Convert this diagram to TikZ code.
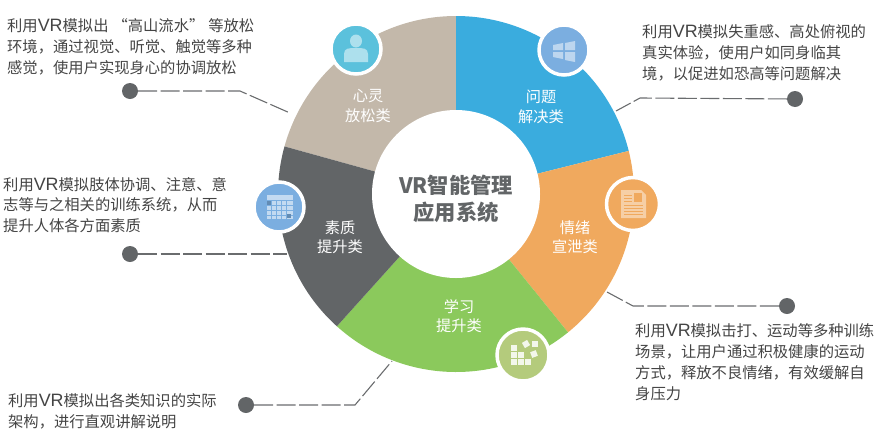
\documentclass[tikz,border=0pt]{standalone}
\usepackage{fontspec}
\setmainfont{Noto Sans CJK SC}[Scale=1]
\newfontfamily\latfont{Liberation Sans}[Scale=1.17]
\newcommand{\vrtxt}{{\latfont VR}}
\definecolor{cbeige}{HTML}{C3B8AA}
\definecolor{cblue}{HTML}{3AACDE}
\definecolor{corange}{HTML}{F0A95E}
\definecolor{cgreen}{HTML}{8BC95C}
\definecolor{cdark}{HTML}{626567}
\definecolor{cline}{HTML}{6A6C6E}
\definecolor{ctext}{HTML}{444444}
\definecolor{iperson}{HTML}{5BC1DC}
\definecolor{iblue}{HTML}{7BAEE0}
\definecolor{igreen}{HTML}{B4CB7C}
\tikzset{
  x=1pt,y=-1pt,
  note/.style={font=\fontsize{15.3}{20.8}\selectfont,text=ctext,align=left,anchor=west,inner sep=0pt},
  seglabel/.style={font=\fontsize{15.2}{19.5}\selectfont,text=white,align=center,inner sep=0pt},
  dot/.style={circle,fill=cdark,minimum size=16pt,inner sep=0pt},
  lead/.style={draw=cline,line width=1.1pt,dash pattern=on 19pt off 3.5pt},
  iconbadge/.style={circle,draw=white,line width=3.5pt,minimum size=50pt,inner sep=0pt},
  pale/.style={fill=white,fill opacity=.5},
}
\newcommand{\sector}[3]{\fill[#1] (#2:82pt) -- (#2:178pt) arc[start angle=#2,end angle=#3,radius=178pt] -- (#3:82pt) arc[start angle=#3,end angle=#2,radius=82pt] -- cycle;}
\begin{document}
\begin{tikzpicture}
\path[use as bounding box] (0,0) rectangle (882,445);
\begin{scope}[shift={(456,194)}]
\sector{cbeige}{90}{164.5}
\sector{cblue}{14}{90}
\sector{corange}{-51}{14}
\sector{cgreen}{-132}{-51}
\sector{cdark}{164.5}{228}
\end{scope}
\node[circle,fill=white,minimum size=168pt,inner sep=0pt] (hub) at (456,194) {};
\node[font=\fontsize{21.3}{26.5}\selectfont\bfseries,text=cdark,align=center,inner sep=0pt] (title) at (456,199) {VR智能管理\\应用系统};
\node[seglabel] (s1) at (368,106) {心灵\\放松类};
\node[seglabel] (s2) at (541,107) {问题\\解决类};
\node[seglabel] (s3) at (575,237) {情绪\\宣泄类};
\node[seglabel] (s4) at (459,316) {学习\\提升类};
\node[seglabel] (s5) at (340,237) {素质\\提升类};
% icon badges
\node[iconbadge,fill=iperson] (i1) at (356,49) {};
\node[iconbadge,fill=iblue] (i2) at (564,50) {};
\node[iconbadge,fill=corange,minimum size=53pt] (i3) at (633,204) {};
\node[iconbadge,fill=iblue,minimum size=50pt] (i5) at (279,207) {};
\node[iconbadge,fill=igreen,minimum size=52pt] (i4) at (523,355) {};
% person
\begin{scope}[shift={(i1)}]
\fill[pale] (0,-8) ellipse (6pt and 6.5pt);
\fill[pale] (-12,13) -- (-12,5) .. controls (-12,-1) and (-7,-1) .. (0,-1) .. controls (7,-1) and (12,-1) .. (12,5) -- (12,13) -- cycle;
\end{scope}
% windows
\begin{scope}[shift={(i2)}]
\fill[pale] (-11,-5) -- (-1,-7) -- (-1,0) -- (-11,0) -- cycle;
\fill[pale] (1,-7) -- (11,-9) -- (11,0) -- (1,0) -- cycle;
\fill[pale] (-11,2) -- (-1,2) -- (-1,9) -- (-11,7) -- cycle;
\fill[pale] (1,2) -- (11,2) -- (11,12) -- (1,10) -- cycle;
\end{scope}
% document
\begin{scope}[shift={(i3)}]
\fill[white,fill opacity=.45] (-12,-14) -- (8,-14) -- (13,-9) -- (13,14) -- (-12,14) -- cycle;
\fill[corange] (1,-11) rectangle (9,-2);
\foreach \yy in {1,4,7,10} \draw[corange,line width=.7pt] (-9,\yy) -- (10,\yy);
\foreach \yy in {-9,-6,-3} \draw[corange,line width=.7pt] (-9,\yy) -- (-1,\yy);
\end{scope}
% calendar
\begin{scope}[shift={(i5)}]
\fill[white,fill opacity=.55] (-12,-12) rectangle (14,12);
\foreach \xx in {-8,-3,2,7} \draw[iblue,line width=.7pt] (\xx,-7) -- (\xx,12);
\foreach \yy in {-7,-2,3,8} \draw[iblue,line width=.7pt] (-12,\yy) -- (14,\yy);
\fill[iblue!80!black] (-12,-6) rectangle (-8,-2);
\fill[iblue!80!black] (8,7) rectangle (12,11);
\end{scope}
% blocks
\begin{scope}[shift={(i4)}]
\foreach \p in {(-9,-7),(-9,0),(-2,0),(-9,7),(-2,7),(5,7)}
  \fill[white,fill opacity=.85] \p ++(-3,-3) rectangle ++(6,6);
\fill[white,fill opacity=.85,rotate around={30:(3,-11)}] (0,-14) rectangle (6,-8);
\fill[white,fill opacity=.85] (9,-14) rectangle (15,-8);
\fill[white,fill opacity=.85,rotate around={20:(11,-1)}] (8,-4) rectangle (14,2);
\end{scope}
% notes
\node[note] (n1) at (7,47) {利用\vrtxt 模拟出\hspace{4pt}“高山流水”\hspace{4pt}等放松\\环境，通过视觉、听觉、触觉等多种\\感觉，使用户实现身心的协调放松};
\node[note] (n2) at (642,53) {利用\vrtxt 模拟失重感、高处俯视的\\真实体验，使用户如同身临其\\境，以促进如恐高等问题解决};
\node[note] (n3) at (3,205) {利用\vrtxt 模拟肢体协调、注意、意\\志等与之相关的训练系统，从而\\提升人体各方面素质};
\node[note] (n4) at (635,362) {利用\vrtxt 模拟击打、运动等多种训练\\场景，让用户通过积极健康的运动\\方式，释放不良情绪，有效缓解自\\身压力};
\node[note] (n5) at (8,411) {利用\vrtxt 模拟出各类知识的实际\\架构，进行直观讲解说明};
% dots and connectors
\node[dot] (d1) at (130,91) {};
\node[dot] (d2) at (795,99) {};
\node[dot] (d3) at (130,254) {};
\node[dot] (d4) at (787,306) {};
\node[dot] (d5) at (246,405) {};
\coordinate (e1) at (290,113);
\coordinate (e2) at (616,111);
\coordinate (e3) at (287,254);
\coordinate (e4) at (607,292);
\coordinate (e5) at (392,361);
\draw[lead] (d1) -- (240,91) -- (e1);
\draw[lead] (d2) -- (640,98) -- (e2);
\draw[lead] (d3) -- (e3);
\draw[lead] (d4) -- (633,306) -- (e4);
\draw[lead] (d5) -- (355,405) -- (e5);
\end{tikzpicture}
\end{document}
